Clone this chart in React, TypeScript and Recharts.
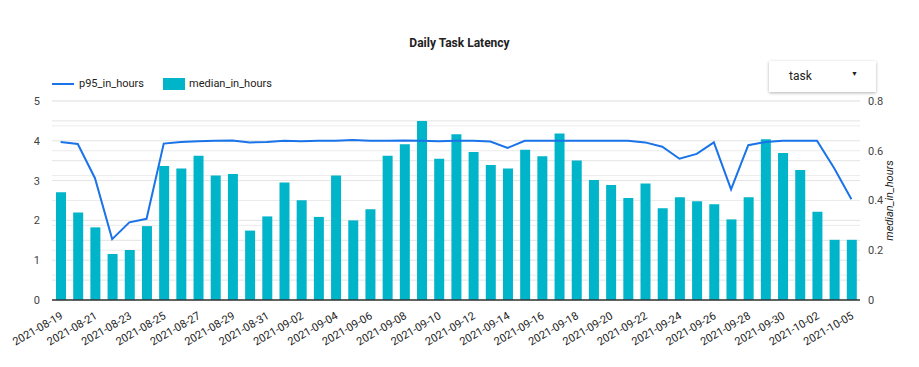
import React from "react";
import {
  ComposedChart,
  Bar,
  Line,
  XAxis,
  YAxis,
  CartesianGrid,
} from "recharts";

const dates = [
  "2021-08-19", "2021-08-20", "2021-08-21", "2021-08-22", "2021-08-23", "2021-08-24",
  "2021-08-25", "2021-08-26", "2021-08-27", "2021-08-28", "2021-08-29", "2021-08-30",
  "2021-08-31", "2021-09-01", "2021-09-02", "2021-09-03", "2021-09-04", "2021-09-05",
  "2021-09-06", "2021-09-07", "2021-09-08", "2021-09-09", "2021-09-10", "2021-09-11",
  "2021-09-12", "2021-09-13", "2021-09-14", "2021-09-15", "2021-09-16", "2021-09-17",
  "2021-09-18", "2021-09-19", "2021-09-20", "2021-09-21", "2021-09-22", "2021-09-23",
  "2021-09-24", "2021-09-25", "2021-09-26", "2021-09-27", "2021-09-28", "2021-09-29",
  "2021-09-30", "2021-10-01", "2021-10-02", "2021-10-04", "2021-10-05",
];

const p95InHours = [
  3.97, 3.92, 3.06, 1.53, 1.95, 2.04, 3.93, 3.97, 3.99, 4.0, 4.01, 3.96,
  3.97, 4.0, 3.99, 4.0, 4.0, 4.02, 4.0, 4.0, 4.01, 4.0, 3.99, 4.0,
  4.0, 3.98, 3.82, 4.0, 4.0, 4.0, 4.0, 4.0, 4.0, 4.0, 3.96, 3.85,
  3.55, 3.67, 3.96, 2.78, 3.89, 3.97, 4.0, 4.0, 4.0, 3.31, 2.53,
];

const medianInHours = [
  0.433, 0.352, 0.292, 0.185, 0.201, 0.297, 0.539, 0.529, 0.58, 0.501, 0.507, 0.279,
  0.336, 0.472, 0.401, 0.334, 0.501, 0.32, 0.365, 0.58, 0.626, 0.72, 0.568, 0.666,
  0.595, 0.543, 0.529, 0.604, 0.578, 0.669, 0.561, 0.482, 0.462, 0.41, 0.468, 0.369,
  0.413, 0.397, 0.385, 0.324, 0.413, 0.646, 0.591, 0.523, 0.355, 0.242, 0.242,
];

const leftTicks = [0, 0.5, 1, 1.5, 2, 2.5, 3, 3.5, 4, 4.5, 5];
const rightTicks = [0, 0.1, 0.2, 0.3, 0.4, 0.5, 0.6, 0.7, 0.8];

const LINE = "#1a73e8";
const BAR = "#00b5c9";
const FONT = "Roboto, Arial, sans-serif";

const data = dates.map((d, i) => ({
  date: d,
  p95_in_hours: p95InHours[i],
  median_in_hours: medianInHours[i],
}));

function DateTick(props: any) {
  const { x, y, payload } = props;
  const tx = x + 3;
  const ty = y + 10;
  return (
    <text
      x={tx}
      y={ty}
      textAnchor="end"
      fontSize={11}
      fill="#222"
      fontFamily={FONT}
      transform={`rotate(-30, ${tx}, ${ty})`}
    >
      {payload.value}
    </text>
  );
}

export default function App() {
  return (
    <div
      style={{
        position: "absolute",
        left: 0,
        top: 0,
        width: 919,
        height: 367,
        background: "#fff",
        fontFamily: FONT,
      }}
    >
      <div
        style={{
          position: "absolute",
          top: 36,
          left: 0,
          width: 919,
          textAlign: "center",
          fontSize: 12,
          fontWeight: 700,
          color: "#222",
        }}
      >
        Daily Task Latency
      </div>

      <div
        style={{
          position: "absolute",
          top: 77,
          left: 52,
          display: "flex",
          alignItems: "center",
          fontSize: 11,
          lineHeight: "14px",
          color: "#222",
        }}
      >
        <span style={{ width: 22, height: 2, background: LINE, display: "inline-block" }} />
        <span style={{ marginLeft: 5 }}>p95_in_hours</span>
        <span
          style={{
            marginLeft: 19,
            width: 22,
            height: 12,
            background: BAR,
            display: "inline-block",
          }}
        />
        <span style={{ marginLeft: 4 }}>median_in_hours</span>
      </div>

      <div
        style={{
          position: "absolute",
          top: 61,
          left: 769,
          width: 107,
          height: 31,
          background: "#fff",
          boxShadow: "0 1px 3px rgba(0,0,0,0.3)",
          fontSize: 12,
          color: "#222",
        }}
      >
        <span style={{ position: "absolute", left: 20, top: 8 }}>task</span>
        <span style={{ position: "absolute", left: 82, top: 9, fontSize: 7 }}>▼</span>
      </div>

      <ComposedChart
        width={919}
        height={367}
        data={data}
        margin={{ top: 101, right: 0, left: 0, bottom: 0 }}
        barCategoryGap="21%"
      >
        <CartesianGrid yAxisId="left" vertical={false} stroke="#e3e3e3" />
        <CartesianGrid yAxisId="right" vertical={false} stroke="#ebebeb" />
        <XAxis
          dataKey="date"
          height={67}
          interval={1}
          tick={<DateTick />}
          tickLine={false}
          axisLine={{ stroke: "#333", strokeWidth: 1.5 }}
        />
        <YAxis
          yAxisId="left"
          orientation="left"
          width={52}
          domain={[0, 5]}
          ticks={leftTicks}
          tickFormatter={(v: number) => (Number.isInteger(v) ? String(v) : "")}
          tick={{ fontSize: 11, fill: "#444", fontFamily: FONT }}
          tickLine={false}
          axisLine={false}
          tickSize={0}
          tickMargin={12}
        />
        <YAxis
          yAxisId="right"
          orientation="right"
          width={59}
          domain={[0, 0.8]}
          ticks={rightTicks}
          tickFormatter={(v: number) =>
            Math.round(v * 10) % 2 === 0 ? String(Math.round(v * 10) / 10) : ""
          }
          tick={{ fontSize: 11, fill: "#444", fontFamily: FONT, textAnchor: "start" }}
          tickLine={false}
          axisLine={false}
          tickSize={0}
          tickMargin={8}
          label={(props: any) => {
            const vb = props.viewBox || { x: 860, y: 101, width: 59, height: 199 };
            const lx = vb.x + 33;
            const ly = vb.y + vb.height / 2;
            return (
              <text
                x={lx}
                y={ly}
                textAnchor="middle"
                fontSize={11}
                fontStyle="italic"
                fill="#222"
                fontFamily={FONT}
                transform={`rotate(-90, ${lx}, ${ly})`}
              >
                median_in_hours
              </text>
            );
          }}
        />
        <Bar
          yAxisId="right"
          dataKey="median_in_hours"
          fill={BAR}
          barSize={10}
          isAnimationActive={false}
        />
        <Line
          yAxisId="left"
          type="linear"
          dataKey="p95_in_hours"
          stroke={LINE}
          strokeWidth={2}
          dot={false}
          isAnimationActive={false}
        />
      </ComposedChart>
    </div>
  );
}
